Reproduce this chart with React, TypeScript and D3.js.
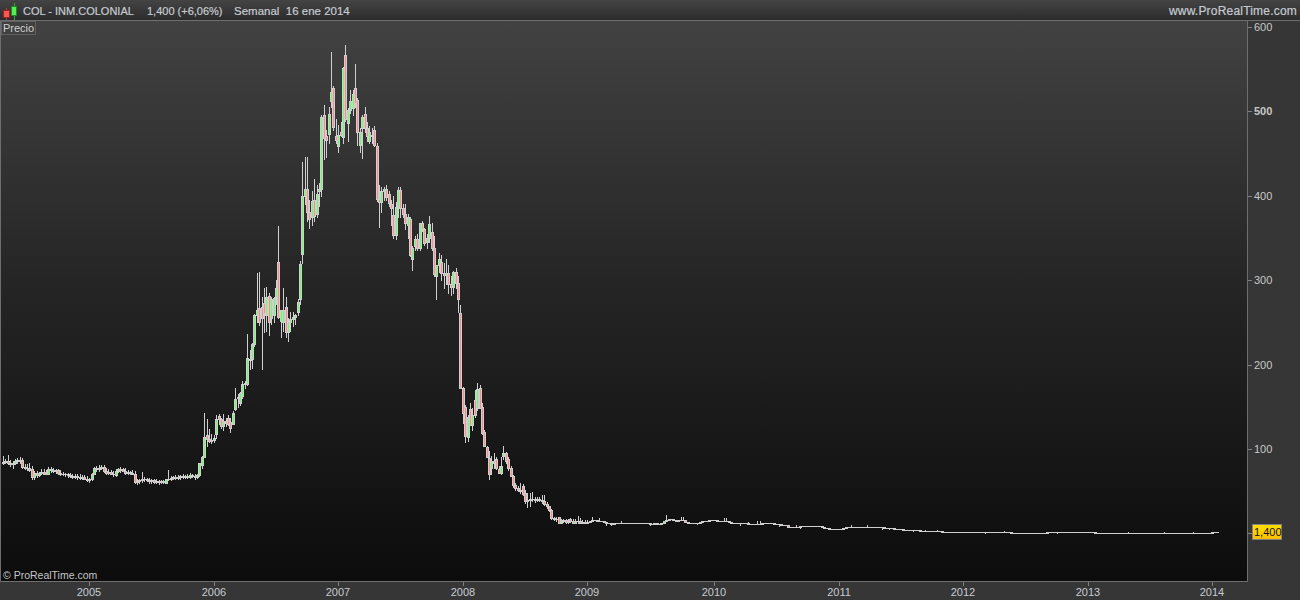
import React from "react";
import * as d3 from "d3";

type Row = number[];

// weekly candles: [open, high, low, close]
const rows2004: Row[] = [
  [83,92,82,85],[85,88,83,86],[86,93,82,84],[84,87,80,82],[82,86,78,84],[84,88,82,86],[86,89,83,87],[87,90,83,86],[87,89,78,79],[79,82,76,78],
  [78,82,75,77],[77,83,74,75],[76,80,65,67],[67,74,65,72],[72,74,67,69],[69,73,68,72],[72,76,71,73],[73,76,70,71],[71,75,70,73],[71,79,70,76],
  [76,79,73,75],[75,77,73,74],[74,76,72,75],[75,76,71,72],[72,75,69,70],[71,73,69,70],[70,72,68,71],[71,72,67,69],[69,72,67,68],[68,70,66,67],
  [67,70,66,68],[68,70,65,67],[67,70,65,66],[66,69,64,67],[67,69,64,65],[65,68,62,63],
];
const rows2005: Row[] = [
  [63,66,61,64],[64,72,63,71],[71,79,70,77],[77,80,74,76],[76,81,74,78],[78,81,76,79],[79,81,73,74],[74,77,71,72],[72,76,70,73],[73,75,70,71],
  [71,74,68,70],[69,76,68,74],[74,78,73,76],[76,79,73,75],[76,78,74,74],[74,77,71,72],[72,75,70,73],[73,74,70,72],[72,75,70,71],[71,74,60,61],
  [61,65,59,62],[62,64,60,63],[63,73,61,64],[64,67,62,65],[65,66,62,63],[63,66,60,62],[62,65,60,63],[63,64,60,61],[61,64,60,62],[62,63,59,61],
  [61,63,60,62],[62,63,60,61],[60,65,60,64],[64,75,63,65],[65,68,63,66],[66,68,64,67],[67,69,65,66],[66,69,65,67],[67,69,65,68],[68,70,66,67],
  [67,69,66,68],[68,70,66,67],[67,72,66,69],[69,71,67,68],[68,70,65,67],[67,70,66,69],[69,84,68,83],[81,92,78,91],[91,143,90,114],[117,135,103,112],
  [112,124,108,110],[110,118,107,111],
];
const rows2006: Row[] = [
  [111,117,108,113],[118,140,113,135],[139,142,130,135],[135,137,125,127],[127,142,122,133],[133,137,127,131],[137,140,128,130],[132,137,120,125],[130,145,129,143],[147,172,146,159],
  [160,165,150,161],[155,168,152,166],[163,180,160,177],[177,181,172,178],[177,236,176,208],[205,217,195,207],[207,226,196,224],[224,260,222,258],[258,308,250,264],[267,310,247,250],
  [268,280,195,255],[273,290,238,261],[258,292,240,280],[281,285,235,250],[255,280,248,278],[258,280,250,279],[280,300,272,291],[321,364,255,256],[252,265,232,264],[250,290,240,265],
  [268,280,232,238],[238,255,228,250],[250,262,240,254],[254,262,245,256],[256,260,248,258],[262,278,258,274],[277,322,272,319],[331,440,320,400],[400,445,390,408],[408,445,370,380],
  [380,395,362,372],[375,405,365,393],[395,420,370,376],[378,412,375,402],[405,415,388,408],[408,495,400,493],[495,507,443,468],[470,478,445,466],[473,505,462,496],[512,570,505,523],
  [527,530,478,481],[470,490,462,466],
];
const rows2007: Row[] = [
  [458,484,451,472],[475,487,470,472],[469,552,462,551],[566,578,488,490],[486,503,465,501],[501,525,498,512],[503,525,495,520],[527,556,505,510],[513,515,460,475],[460,480,452,475],
  [480,495,444,493],[497,505,475,480],[480,487,465,470],[465,482,462,475],[472,480,462,470],[477,482,458,460],[459,462,393,396],[396,412,363,392],[392,410,380,405],[405,410,395,408],
  [408,412,395,398],[402,405,388,391],[390,395,365,385],[377,400,350,353],[353,392,348,386],[386,410,375,407],[407,410,375,385],[385,390,375,378],[378,390,360,368],[365,378,350,375],
  [372,375,328,330],[325,340,312,338],[340,352,335,349],[349,355,335,338],[338,368,335,367],[367,370,358,360],[360,362,342,344],[345,355,338,350],[350,376,345,366],[357,368,335,338],
  [338,352,305,307],[305,318,278,318],[318,332,310,325],[321,330,300,308],[308,320,290,306],[306,325,295,308],[308,318,285,295],[295,305,282,292],[292,311,285,309],[309,314,290,296],
  [296,305,262,277],[261,270,172,172],[172,173,131,143],
];
const rows2008: Row[] = [
  [150,152,108,115],[114,140,110,138],[147,155,128,128],[128,148,122,140],[158,170,138,140],[148,178,146,171],[172,176,148,148],[150,155,118,119],[120,122,104,104],[102,104,90,90],
  [89,98,64,71],[78,92,70,86],[86,95,78,84],[88,90,76,78],[76,80,72,72],[72,90,71,80],[92,103,88,95],[95,96,84,86],[88,90,75,77],[77,80,68,68],
  [68,69,55,57],[57,60,52,54],[54,56,50,52],[52,60,48,50],[56,58,46,47],[48,52,36,38],[38,48,31,40],[40,48,32,41],[41,49,38,41],[41,43,37,40],
  [40,43,38,41],[41,43,39,40],[40,45,36,38],[38,46,34,35],[35,37,30,32],[32,33,27,28],[28,29,17,18],[18,20,16,17],[17,20,15,17],[19,20,13,13],
  [13,17,13,15],[15,17,14,16],[16,17,13,14],[14,17,13,15],[17,18,14,15],[15,17,12,13],[13,17,12,15],[15,21,12,15],[15,18,12,13],[13,16,12,14],
  [14,16,12,13],[13,16,12,14],
];

// from 2009 on the candles are almost flat: closes only, open = previous close
const closes2009on: number[] = [
  15,16,16,15,15,15,14,13,12,11,
  12,12,12.5,12.5,13,13,13,13,13,13,
  12.5,13,13,12,12,11.5,11.5,12,11.5,11.5,
  13,15,16,17,17,16,15,15.5,16,15.5,
  14,13,13,13,13,13,14,15,15,15,
  16,16,15.5,15,15,14.5,14.5,14.5,14,13,
  12.5,12.5,12,12,12,12,11.5,11.5,11,11,
  11,11,12,12.5,12.5,12.5,12,11.5,11,11,
  10.5,10,9.5,8,7.5,7.5,7.5,8,8.5,9,
  9,9,9,9,9,8.8,8.8,8,7,6,
  5.6,5,5,5,5,5,6,7.5,7.5,7.7,
  7.7,7.7,7.7,7.7,7.7,7.7,7.7,7.7,7.7,7.7,
  7.5,7.5,7.3,7,6.8,6.5,6,5.6,5.3,5,
  5,4.5,4.5,4.3,4.1,4,4,3.8,3.5,3,
  3,3,2.8,2.8,2.5,2.5,2.5,2.3,2.3,2.2,
  2.2,2,2,1.9,1.9,1.9,1.8,1.8,1.7,1.7,
  1.6,1.6,1.4,1.4,1.4,1.4,1.2,1.2,1.2,1.2,
  1.4,1.4,1.4,1.3,1.4,1.2,1.1,1,0.8,0.7,
  0.6,0.6,0.6,0.6,0.9,0.9,0.8,0.6,0.6,0.7,
  1,1.3,1.4,1.4,1.4,1.4,1.4,1.3,1.3,1.3,
  1.3,1.3,1.3,1.2,1.2,1.2,1.2,1.2,1.2,1.2,
  1.2,1.1,0.5,0.4,0.4,0.4,0.4,0.4,0.4,0.4,
  0.4,0.5,0.5,0.5,0.5,0.5,0.5,0.7,0.9,1,
  1,1,1,0.8,0.8,0.8,0.9,0.9,0.7,0.7,
  0.7,0.6,0.6,0.6,0.6,0.6,0.5,0.5,0.5,0.5,
  0.8,1,1,1,1,0.7,0.7,0.7,0.9,1,
  1.2,1.32,1.4,
];
// sparse wicks of the flat period: position in closes2009on, extreme price
const wickSlots = [1,4,7,9,13,25,32,38,39,45,56,57,63,66,70,71,79,86,88,109,116,122,125,127,135,140,145,165,173,195,208,225,240,252,258];
const wickPrices = [19,18,10,9.5,15,9.5,22,19,19,11,18,18,10,14,15,15,9,9.5,6,9.5,9.5,5.5,5,5,2.5,4.5,4.5,0.2,3,0.1,2,1.8,1.6,1.2,0.3];

const lastWeek = new Date(2014, 0, 16);
const priceTicks = [100, 200, 300, 400, 500, 600];
const headerSymbol = "COL - INM.COLONIAL";
const headerChange = "1,400 (+6,06%)";
const headerPeriod = "Semanal  16 ene 2014";
const headerSite = "www.ProRealTime.com";
const lastPriceLabel = "1,400";

const W = 1300, H = 600;
const plot = { l: 1, r: 1247, t: 20, b: 581 };
const font = "'Liberation Sans', Arial, sans-serif";
const GREY = "#cfcfcf";

export default function App() {
  const early = [...rows2004, ...rows2005, ...rows2006, ...rows2007, ...rows2008];
  const late: Row[] = closes2009on.map((c, i) => {
    const o = i === 0 ? early[early.length - 1][3] : closes2009on[i - 1];
    let h = Math.max(o, c), l = Math.min(o, c);
    const k = wickSlots.indexOf(i);
    if (k >= 0) {
      if (wickPrices[k] > h) h = wickPrices[k];
      else l = wickPrices[k];
    }
    return [o, h, l, c];
  });
  const bars = [...early, ...late];
  const n = bars.length;
  const dates = bars.map((_, i) => d3.timeWeek.offset(lastWeek, i - n + 1));
  const x = d3.scaleTime().domain([dates[0], dates[n - 1]]).range([3, 1217]);
  const y = d3.scaleLinear().domain([100, 600]).range([449, 26.5]);
  const years = d3.timeYear.range(new Date(2005, 0, 1), new Date(2014, 0, 2));
  // a year tick sits on the first weekly bar of that year
  const firstBar = (d: Date) => dates[d3.bisectLeft(dates, d)];

  return (
    <svg width={W} height={H} viewBox={`0 0 ${W} ${H}`}
      style={{ position: "absolute", left: 0, top: 0, display: "block" }} fontFamily={font}>
      <defs>
        <linearGradient id="plotBg" x1="0" y1="0" x2="0" y2="1">
          <stop offset="0" stopColor="#424242" />
          <stop offset="0.45" stopColor="#262626" />
          <stop offset="1" stopColor="#0c0c0c" />
        </linearGradient>
        <linearGradient id="headBg" x1="0" y1="0" x2="0" y2="1">
          <stop offset="0" stopColor="#444444" />
          <stop offset="1" stopColor="#2c2c2c" />
        </linearGradient>
        <linearGradient id="gold" x1="0" y1="0" x2="0" y2="1">
          <stop offset="0" stopColor="#ffdf00" />
          <stop offset="1" stopColor="#ffbe00" />
        </linearGradient>
      </defs>
      <rect width={W} height={H} fill="#363636" />
      <rect width={W} height={plot.t} fill="url(#headBg)" />
      <rect x={plot.l} y={plot.t} width={plot.r - plot.l} height={plot.b - plot.t} fill="url(#plotBg)" />
      <path d={`M0.5 ${plot.b + .5}V${plot.t + .5}H${W}M${plot.r + .5} ${plot.t}V${plot.b + .5}H0`}
        fill="none" stroke="#6e6e6e" />

      {/* header icon */}
      <path d="M6.5 8V20" stroke="#c33" />
      <rect x={3.5} y={10.5} width={6} height={7} fill="#ff5555" stroke="#992222" />
      <path d="M14.5 3V20" stroke="#3a3" />
      <rect x={11.5} y={6.5} width={5} height={9} fill="#55ee55" stroke="#228822" />

      <g fontSize={11} fill="#c6cbd2" stroke="#c6cbd2" strokeWidth={0.2}>
        <text x={23} y={14.5}>{headerSymbol}</text>
        <text x={147} y={14.5}>{headerChange}</text>
        <text x={234} y={14.5} fontSize={11.5} style={{ whiteSpace: "pre" }}>{headerPeriod}</text>
        <text x={1297} y={14.5} fontSize={12} textAnchor="end" letterSpacing={0.2}>{headerSite}</text>
      </g>

      <rect x={1.5} y={21.5} width={34} height={13} fill="#404040" stroke="#606060" />
      <text x={3} y={31.5} fontSize={11} fill="#d0d0d0">Precio</text>

      {/* candles */}
      <g>
        {bars.map((b, i) => {
          const [o, h, l, c] = b;
          const px = Math.round(x(dates[i]));
          const top = Math.round(y(Math.max(o, c)));
          const bot = Math.round(y(Math.min(o, c)));
          const fill = c > o ? "#66ff66" : c < o ? "#ff8a8a" : GREY;
          return (
            <g key={i}>
              <line x1={px + .5} x2={px + .5} y1={Math.round(y(h))} y2={Math.round(y(l)) + 1} stroke={GREY} />
              {bot - top < 1
                ? <rect x={px - 1} y={top} width={3} height={1} fill={GREY} />
                : <rect x={px - .5} y={top + .5} width={2} height={bot - top} fill={bot - top < 2 ? GREY : fill} stroke={GREY} />}
            </g>
          );
        })}
      </g>

      {/* price axis */}
      <g fontSize={11} fill="#c8c8c8">
        {priceTicks.map(t => (
          <g key={t}>
            <line x1={plot.r + 1} x2={plot.r + 5} y1={Math.round(y(t)) + .5} y2={Math.round(y(t)) + .5} stroke="#808080" />
            <text x={1254} y={y(t) + 4} fontWeight={t === 500 ? 600 : 400}>{t}</text>
          </g>
        ))}
      </g>
      <line x1={plot.r + 1} x2={1252} y1={533.5} y2={533.5} stroke="#808080" />
      <rect x={1252.5} y={524.5} width={29} height={15} fill="url(#gold)" stroke="#808080" />
      <text x={1254} y={536} fontSize={11} fill="#111">{lastPriceLabel}</text>

      {/* time axis */}
      <g fontSize={11} fill="#c6cbd2">
        {years.map(d => {
          const px = Math.round(x(firstBar(d)));
          return (
            <g key={+d}>
              <line x1={px + .5} x2={px + .5} y1={plot.b + 1} y2={plot.b + 5} stroke="#808080" />
              <text x={px} y={596} textAnchor="middle">{d3.timeFormat("%Y")(d)}</text>
            </g>
          );
        })}
      </g>
      <text x={3} y={579} fontSize={10.5} fill="#c6c6c6">© ProRealTime.com</text>
    </svg>
  );
}
